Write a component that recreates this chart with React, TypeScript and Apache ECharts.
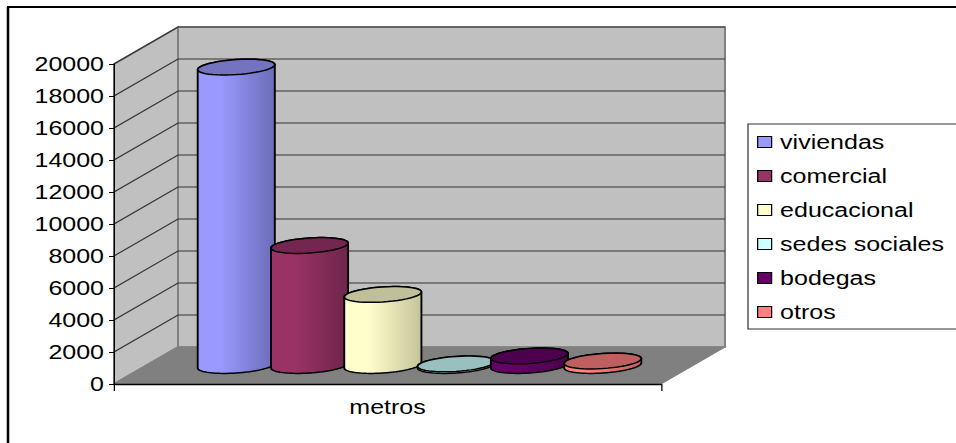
import React, { useEffect, useRef } from "react";
import * as echarts from "echarts";

const categories = ["metros"];
const seriesNames = ["viviendas", "comercial", "educacional", "sedes sociales", "bodegas", "otros"];
const seriesValues = [18650, 7500, 4440, 100, 600, 280];
const yTicks = [0, 2000, 4000, 6000, 8000, 10000, 12000, 14000, 16000, 18000, 20000];
const baseColors = ["#9999ff", "#993366", "#ffffcc", "#ccffff", "#660066", "#ff8080"];
const darkColors = ["#6c6cb8", "#6f254b", "#c4c49c", "#9cc4c4", "#4d004d", "#bf6060"];
const topColors = ["#7373bf", "#732650", "#bfbf99", "#99bfbf", "#4d004d", "#bf6060"];

const S = 1.25; // the reference is stretched horizontally
const X = (x: number) => x / S;
const DX = X(64);
const DY = 37;
const STEP = 0.134;
const BAR = 0.141;

function ellipsePts(cx: number, cy: number, a: number, b: number, k: number, from: number, to: number, n = 36) {
  const pts: number[][] = [];
  for (let i = 0; i <= n; i++) {
    const t = from + ((to - from) * i) / n;
    pts.push([cx + a * Math.cos(t), cy + b * Math.sin(t) - k * Math.cos(t)]);
  }
  return pts;
}

const wallsRender = (params: any, api: any) => {
  const c = params.coordSys;
  const x0 = c.x, x1 = c.x + c.width, yT = c.y, yB = c.y + c.height;
  const wall = { fill: "#c0c0c0", stroke: "#808080", lineWidth: 1.6 };
  return {
    type: "group",
    children: [
      { type: "polygon", shape: { points: [[x0 + DX, yT - DY], [x1 + DX, yT - DY], [x1 + DX, yB - DY], [x0 + DX, yB - DY]] }, style: wall },
      { type: "polygon", shape: { points: [[x0, yT], [x0 + DX, yT - DY], [x0 + DX, yB - DY], [x0, yB]] }, style: wall },
      { type: "polygon", shape: { points: [[x0, yB], [x0 + DX, yB - DY], [x1 + DX, yB - DY], [x1, yB]] }, style: { fill: "#808080", stroke: "#808080", lineWidth: 1 } },
    ],
  };
};

const gridRender = (params: any, api: any) => {
  const c = params.coordSys;
  const x0 = c.x, x1 = c.x + c.width;
  const y = api.coord([categories[0], api.value(1)])[1];
  return {
    type: "polyline",
    shape: { points: [[x0, y], [x0 + DX, y - DY], [x1 + DX, y - DY]] },
    style: { fill: "none", stroke: "#333333", lineWidth: 1 },
  };
};

const cylinderRender = (index: number) => (params: any, api: any) => {
  const c = params.coordSys;
  const cx = c.x + c.width / 2 + DX / 2 + (index - 2.5) * STEP * c.width;
  const a = (BAR * c.width) / 2;
  const yTop = api.coord([categories[0], api.value(1)])[1] - DY / 2;
  const yBase = api.coord([categories[0], 0])[1] - DY / 2;
  const b = 7.5, k = 2.5;
  const body = [
    ...ellipsePts(cx, yBase, a, b, k, 0, Math.PI),
    ...ellipsePts(cx, yTop, a, b, k, Math.PI, 2 * Math.PI),
  ];
  const stroke = { stroke: "#000000", lineWidth: 1.5 };
  return {
    type: "group",
    children: [
      {
        type: "polygon",
        shape: { points: body },
        style: {
          ...stroke,
          fill: new echarts.graphic.LinearGradient(0, 0, 1, 0, [
            { offset: 0, color: baseColors[index] },
            { offset: 0.3, color: baseColors[index] },
            { offset: 1, color: darkColors[index] },
          ]),
        },
      },
      {
        type: "polygon",
        shape: { points: ellipsePts(cx, yTop, a, b, k, 0, 2 * Math.PI, 48) },
        style: { ...stroke, fill: topColors[index] },
      },
    ],
  };
};

export default function App() {
  const ref = useRef<HTMLDivElement>(null);
  useEffect(() => {
    document.body.style.margin = "0";
    document.body.style.overflow = "hidden";
    const chart = echarts.init(ref.current!, null, { renderer: "svg" });
    const font = "'Liberation Sans', Arial, sans-serif";
    chart.setOption({
      animation: false,
      backgroundColor: "#ffffff",
      textStyle: { fontFamily: font },
      grid: { left: X(114), width: X(547), top: 64, height: 320 },
      xAxis: {
        type: "category",
        data: categories,
        z: 3,
        axisLine: { lineStyle: { color: "#000000", width: 1.4 } },
        axisTick: { show: true, length: 7, lineStyle: { color: "#000000", width: 1 } },
        axisLabel: { color: "#000000", fontSize: 20, fontFamily: font, margin: 13 },
      },
      yAxis: {
        type: "value",
        min: 0,
        max: 20000,
        interval: 2000,
        z: 3,
        axisLine: { show: true, lineStyle: { color: "#000000", width: 1 } },
        axisTick: { show: true, length: 4, lineStyle: { color: "#000000", width: 1 } },
        axisLabel: {
          color: "#000000",
          fontSize: 20,
          fontFamily: font,
          margin: 8,
          showMinLabel: true,
          showMaxLabel: true,
          formatter: (v: number) => String(v),
        },
        splitLine: { show: false },
      },
      legend: {
        data: seriesNames,
        orient: "vertical",
        left: X(757),
        top: 132,
        padding: 0,
        itemGap: 14,
        itemWidth: X(14),
        itemHeight: 11,
        icon: "rect",
        selectedMode: false,
        itemStyle: { borderColor: "#000000", borderWidth: 1 },
        textStyle: { color: "#000000", fontSize: 20, fontFamily: font, padding: [0, 0, 0, 1.8] },
      },
      graphic: [
        { type: "rect", z: 1, shape: { x: X(748), y: 124, width: X(300), height: 205 }, style: { fill: "#ffffff", stroke: "#333333", lineWidth: 1 } },
        { type: "line", z: 1, shape: { x1: X(8), y1: 7, x2: X(8), y2: 443 }, style: { stroke: "#000000", lineWidth: 2 } },
        { type: "line", z: 1, shape: { x1: X(7), y1: 7, x2: X(956), y2: 7 }, style: { stroke: "#000000", lineWidth: 2 } },
      ],
      series: [
        { type: "custom", name: "walls", z: 0, silent: true, clip: false, renderItem: wallsRender, data: [[categories[0], 0]] },
        {
          type: "custom", name: "gridlines", z: 1, silent: true, clip: false, renderItem: gridRender,
          data: yTicks.slice(1).map((v) => [categories[0], v]),
        },
        ...seriesNames.map((name, i) => ({
          type: "custom",
          name,
          z: 4 + i,
          clip: false,
          renderItem: cylinderRender(i),
          itemStyle: { color: baseColors[i] },
          encode: { x: 0, y: 1 },
          data: [[categories[0], seriesValues[i]]],
        })),
      ],
    });
    return () => chart.dispose();
  }, []);
  return (
    <div
      ref={ref}
      style={{
        position: "absolute",
        left: 0,
        top: 0,
        width: 956 / S,
        height: 443,
        transform: `scaleX(${S})`,
        transformOrigin: "0 0",
      }}
    />
  );
}
